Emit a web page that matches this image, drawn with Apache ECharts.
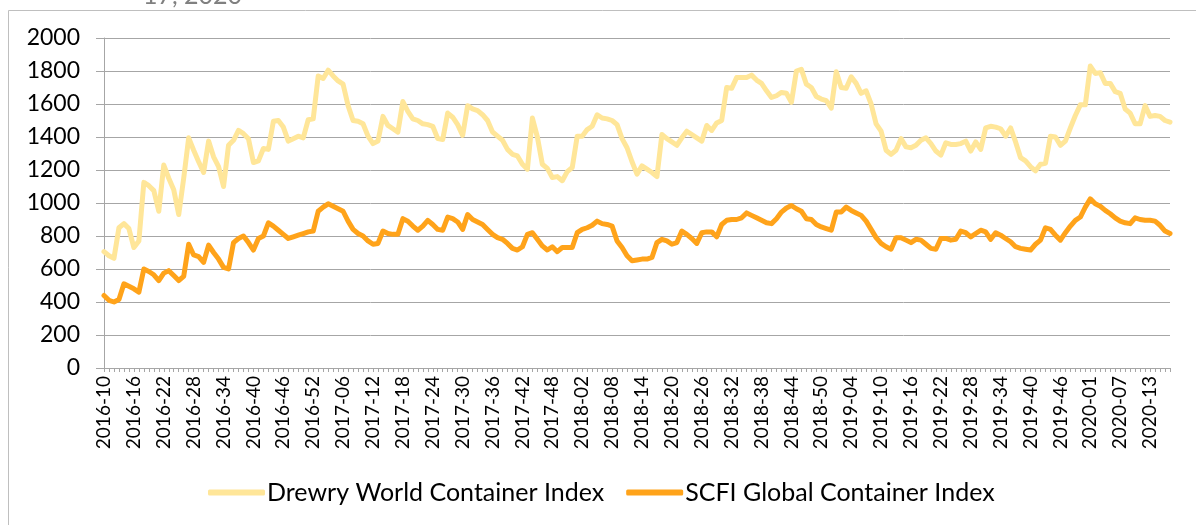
<!DOCTYPE html>
<html>
<head>
<meta charset="utf-8">
<script src="https://cdn.jsdelivr.net/npm/echarts@6/dist/echarts.min.js"></script>
<style>
  html, body { margin: 0; padding: 0; background: #fff; }
  #chart { width: 1196px; height: 525px; }
</style>
</head>
<body>
<div id="chart"></div>
<script>
  // week ranges per year: [year, first week, last week]
  const yearWeeks = [[2016, 10, 52], [2017, 1, 52], [2018, 1, 52], [2019, 1, 51], [2020, 1, 17]];
  const weeks = [];
  yearWeeks.forEach(([y, a, b]) => {
    for (let w = a; w <= b; w += 1) weeks.push(y + '-' + String(w).padStart(2, '0'));
  });

  const drewry = [
    705, 680, 665, 850, 875, 845, 730, 770, 1125, 1105, 1075, 950, 1230, 1150, 1080, 930, 1150, 1395, 1320, 1250,
    1185, 1375, 1280, 1220, 1100, 1350, 1380, 1440, 1420, 1390, 1245, 1255, 1330, 1325, 1495,
    1500, 1460, 1375, 1390, 1405, 1395, 1505, 1510, 1770, 1755, 1805, 1770, 1740, 1720, 1590, 1500, 1495, 1480,
    1405, 1360, 1375, 1525, 1470, 1450, 1430, 1615, 1555, 1510, 1500, 1480, 1475, 1465, 1390, 1385, 1545, 1520,
    1475, 1410, 1590, 1570, 1560, 1535, 1500, 1430, 1405, 1380, 1325, 1295, 1285, 1235, 1205, 1515, 1400, 1235,
    1210, 1155, 1160, 1135, 1190, 1215, 1405, 1405, 1445, 1465, 1535, 1515, 1510, 1500, 1475, 1390, 1335, 1250,
    1175, 1225, 1205, 1185, 1160, 1415, 1390, 1370, 1350, 1395, 1435, 1415, 1395, 1375, 1470, 1440, 1485, 1500,
    1700, 1695, 1760, 1760, 1760, 1775, 1745, 1725, 1680, 1640, 1650, 1670, 1665, 1610, 1800, 1810, 1720,
    1700, 1645, 1630, 1620, 1575, 1795, 1700, 1695, 1765, 1725, 1665, 1680, 1600, 1480, 1435, 1320, 1295, 1320,
    1390, 1340, 1335, 1350, 1380, 1395, 1360, 1315, 1290, 1365, 1355, 1355, 1360, 1375, 1315, 1370, 1325, 1455,
    1465, 1460, 1450, 1405, 1455, 1370, 1275, 1255, 1220, 1195, 1235, 1240, 1405, 1400, 1350, 1375, 1455, 1530,
    1595, 1595, 1830, 1785, 1790, 1725, 1725, 1675, 1665, 1570, 1545, 1480, 1480, 1590, 1525, 1530, 1525, 1500, 1490
  ];
  const scfi = [
    440, 410, 400, 415, 510, 495, 480, 460, 600, 585, 565, 530, 575, 590, 560, 530, 555, 750, 685, 675,
    640, 745, 700, 660, 610, 600, 760, 785, 800, 760, 715, 785, 800, 880, 860,
    835, 810, 785, 795, 805, 815, 825, 830, 950, 975, 995, 980, 965, 950, 890, 840, 815, 800,
    770, 750, 755, 830, 815, 810, 810, 905, 890, 860, 835, 860, 895, 870, 840, 835, 915, 905,
    885, 840, 930, 900, 885, 870, 840, 810, 790, 780, 755, 725, 715, 735, 810, 820, 780, 740,
    715, 735, 705, 730, 730, 730, 820, 840, 850, 865, 890, 875, 870, 860, 770, 730, 680, 650,
    655, 660, 660, 670, 760, 780, 770, 750, 760, 830, 810, 785, 755, 820, 825, 825, 795, 870,
    895, 900, 900, 910, 940, 925, 910, 895, 880, 875, 905, 945, 970, 985, 965, 950, 905,
    900, 870, 855, 845, 835, 945, 945, 975, 955, 940, 925, 890, 840, 790, 755, 735, 720, 790,
    790, 775, 760, 780, 775, 750, 725, 720, 785, 785, 775, 780, 830, 820, 795, 815, 835, 825,
    780, 820, 805, 785, 765, 735, 725, 720, 715, 750, 775, 850, 840, 805, 775, 820, 860, 895,
    915, 975, 1025, 995, 980, 955, 935, 910, 890, 880, 875, 910, 900, 895, 895, 890, 865, 830, 815
  ];

  const font = 'Lato, "Open Sans", sans-serif';
  const chart = echarts.init(document.getElementById('chart'), null, { renderer: 'canvas' });

  chart.setOption({
    animation: false,
    textStyle: { fontFamily: font },
    graphic: [
      // cropped title remnant at the very top
      { type: 'text', left: 143, top: -17, style: { text: '17, 2020', fill: '#808080', font: '25px ' + font } },
      // chart frame (only top and left edges are inside the picture)
      { type: 'line', shape: { x1: 8.5, y1: 10.5, x2: 1196, y2: 10.5 }, style: { stroke: '#BFBFBF', lineWidth: 1 } },
      { type: 'line', shape: { x1: 8.5, y1: 10.5, x2: 8.5, y2: 525 }, style: { stroke: '#BFBFBF', lineWidth: 1 } }
    ],
    legend: {
      top: 475,
      left: 203,
      icon: 'roundRect',
      itemWidth: 57,
      itemHeight: 6,
      itemGap: 22,
      textStyle: { fontSize: 25, color: '#000', fontFamily: font, padding: [0, 0, 0, -3] },
      data: ['Drewry World Container Index', 'SCFI Global Container Index']
    },
    grid: { left: 104, right: 26, top: 38, bottom: 157 },
    xAxis: {
      type: 'category',
      boundaryGap: false,
      data: weeks,
      axisLine: { lineStyle: { color: '#A6A6A6', width: 1 } },
      axisTick: { interval: 0, length: 4, lineStyle: { color: '#A6A6A6' } },
      axisLabel: { interval: 5, rotate: 90, fontSize: 19, color: '#000', margin: 8, fontFamily: font },
      splitLine: { show: false }
    },
    yAxis: {
      type: 'value',
      min: 0,
      max: 2000,
      interval: 200,
      axisLine: { show: true, lineStyle: { color: '#A6A6A6', width: 1 } },
      axisTick: { show: true, length: 8, lineStyle: { color: '#A6A6A6' } },
      axisLabel: { fontSize: 23, color: '#000', margin: 24, fontFamily: font, formatter: (v) => String(v) },
      splitLine: { lineStyle: { color: '#A6A6A6', width: 1 } }
    },
    series: [
      {
        name: 'Drewry World Container Index',
        type: 'line',
        data: drewry,
        symbol: 'none',
        color: '#FFE699',
        lineStyle: { width: 5, color: '#FFE699', cap: 'round', join: 'round' }
      },
      {
        name: 'SCFI Global Container Index',
        type: 'line',
        data: scfi,
        symbol: 'none',
        color: '#FFA31A',
        lineStyle: { width: 5, color: '#FFA31A', cap: 'round', join: 'round' }
      }
    ]
  });
</script>
</body>
</html>
